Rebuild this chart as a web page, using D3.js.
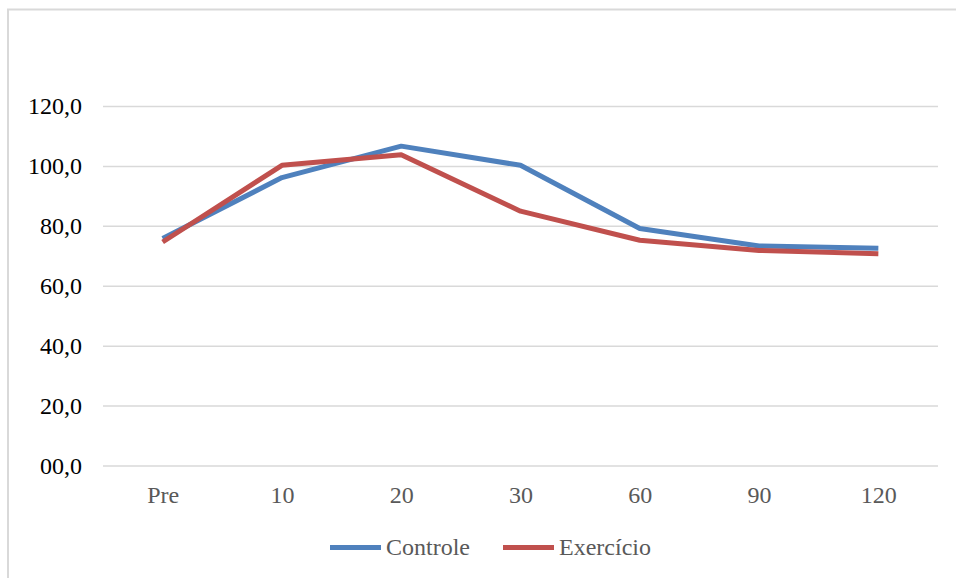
<!DOCTYPE html>
<html>
<head>
<meta charset="utf-8">
<script src="https://cdn.jsdelivr.net/npm/d3@7"></script>
<style>
  html, body { margin: 0; padding: 0; background: #fff; }
  svg { display: block; }
</style>
</head>
<body>
<svg id="chart" width="956" height="578"></svg>
<script>
// Time points (minutes) and series values
const categories = ["Pre", "10", "20", "30", "60", "90", "120"];
const controle = [75.8, 96.1, 106.6, 100.2, 79.1, 73.3, 72.5];
const exercicio = [74.6, 100.2, 103.7, 84.9, 75.2, 71.8, 70.7];
const yTicks = [0, 20, 40, 60, 80, 100, 120];
const seriesNames = ["Controle", "Exercício"];
const seriesColors = ["#4F81BD", "#C0504D"];

const FONT = "'Liberation Serif', 'DejaVu Serif', serif";

const svg = d3.select("#chart").attr("font-family", FONT);
const W = 956, H = 578;

// Outer chart frame
svg.append("rect")
  .attr("x", 8).attr("y", 9.5)
  .attr("width", W + 10).attr("height", H + 10)
  .attr("fill", "#fff")
  .attr("stroke", "#d9d9d9").attr("stroke-width", 2);

const plot = { left: 103, right: 938, top: 106, bottom: 465.5 };

const x = d3.scalePoint()
  .domain(categories)
  .range([plot.left, plot.right])
  .padding(0.5);

const y = d3.scaleLinear()
  .domain([0, 120])
  .range([plot.bottom, plot.top]);

const fmt = v => (v < 10 ? "0" + v : String(v)) + ",0";

// Horizontal gridlines and y labels
const yAxis = d3.axisLeft(y)
  .tickValues(yTicks)
  .tickSize(-(plot.right - plot.left))
  .tickPadding(21)
  .tickFormat(fmt);

const gy = svg.append("g")
  .attr("transform", `translate(${plot.left},0)`)
  .call(yAxis)
  .attr("font-family", FONT);
gy.select(".domain").remove();
gy.selectAll(".tick line")
  .attr("stroke", "#d9d9d9").attr("stroke-width", 1.5);
gy.selectAll(".tick text")
  .attr("fill", "#000")
  .style("font-family", FONT)
  .attr("font-size", 24)
  .attr("dy", "0.33em");

// Category labels along the bottom
const xAxis = d3.axisBottom(x).tickSize(0).tickPadding(20);
const gx = svg.append("g")
  .attr("transform", `translate(0,${plot.bottom})`)
  .call(xAxis)
  .attr("font-family", FONT);
gx.select(".domain").remove();
gx.selectAll(".tick text")
  .attr("fill", "#595959")
  .style("font-family", FONT)
  .attr("font-size", 24)
  .attr("dy", "0.71em");

// Series lines
const line = d3.line()
  .x((d, i) => x(categories[i]))
  .y(d => y(d));

[controle, exercicio].forEach((vals, k) => {
  svg.append("path")
    .datum(vals)
    .attr("fill", "none")
    .attr("stroke", seriesColors[k])
    .attr("stroke-width", 5)
    .attr("stroke-linejoin", "round")
    .attr("stroke-linecap", "butt")
    .attr("d", line);
});

// Legend
const legendItems = [
  { name: seriesNames[0], color: seriesColors[0], x: 330 },
  { name: seriesNames[1], color: seriesColors[1], x: 503 }
];
const lg = svg.append("g");
legendItems.forEach(it => {
  lg.append("line")
    .attr("x1", it.x).attr("x2", it.x + 51)
    .attr("y1", 547.5).attr("y2", 547.5)
    .attr("stroke", it.color).attr("stroke-width", 5);
  lg.append("text")
    .attr("x", it.x + 56).attr("y", 555)
    .attr("fill", "#595959")
    .style("font-family", FONT)
    .attr("font-size", 24)
    .text(it.name);
});
</script>
</body>
</html>
